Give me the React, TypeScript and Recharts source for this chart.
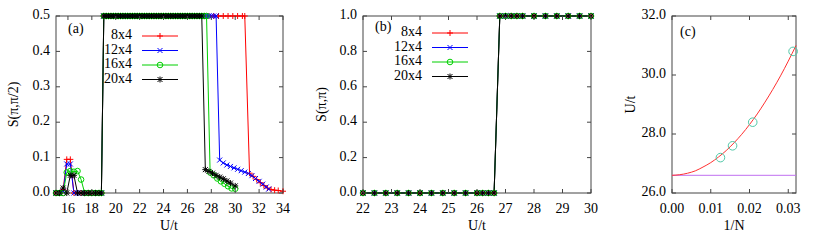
import React from 'react';
import { LineChart, ComposedChart, Line, Scatter, XAxis, YAxis, ReferenceLine } from 'recharts';

const W = 822;
const H = 240;
const FONT = "'Liberation Serif', 'Times New Roman', 'DejaVu Serif', serif";
const FS = 14;
const FRAME = '#444444';
const TICK_LEN = 4;
const YW = 40;
const XH = 30;

const RED = '#ff0000';
const BLUE = '#0000ff';
const GREEN = '#00d000';
const BLACK = '#000000';
const TEAL = '#50c8a8';
const FIT = '#ff3030';
const VIOLET = '#c070f0';

// plot boxes in page pixels
const boxA = { l: 56, t: 16, r: 283, b: 193 };
const boxB = { l: 363, t: 16, r: 591, b: 193 };
const boxC = { l: 672, t: 16, r: 796, b: 193 };

// ---------- panel (a): S(pi, pi/2) vs U/t ----------
const uLow = [15.0, 15.3, 15.6, 15.9, 16.2, 16.5, 16.8, 17.1, 17.4, 17.7, 18.0, 18.3, 18.6, 18.8];
const sLow8 = [0, 0, 0.01, 0.095, 0.095, 0, 0, 0, 0, 0, 0, 0, 0, 0];
const sLow12 = [0, 0, 0.005, 0.082, 0.082, 0, 0, 0, 0, 0, 0, 0, 0, 0];
const sLow16 = [0, 0, 0, 0.058, 0.062, 0.06, 0.062, 0.038, 0, 0, 0, 0, 0, 0];
const sLow20 = [0, 0, 0.014, 0, 0.05, 0.05, 0, 0, 0, 0, 0, 0, 0, 0];

const uPlateau = [
  19.0, 19.2, 19.4, 19.6, 19.8, 20.0, 20.2, 20.4, 20.6, 20.8, 21.0, 21.2, 21.4, 21.6,
  21.8, 22.0, 22.2, 22.4, 22.6, 22.8, 23.0, 23.2, 23.4, 23.6, 23.8, 24.0, 24.2, 24.4,
  24.6, 24.8, 25.0, 25.2, 25.4, 25.6, 25.8, 26.0, 26.2, 26.4, 26.6, 26.8, 27.0,
];
const sPlateau = [
  0.5, 0.5, 0.5, 0.5, 0.5, 0.5, 0.5, 0.5, 0.5, 0.5, 0.5, 0.5, 0.5, 0.5,
  0.5, 0.5, 0.5, 0.5, 0.5, 0.5, 0.5, 0.5, 0.5, 0.5, 0.5, 0.5, 0.5, 0.5,
  0.5, 0.5, 0.5, 0.5, 0.5, 0.5, 0.5, 0.5, 0.5, 0.5, 0.5, 0.5, 0.5,
];

const uTail8 = [27.4, 27.8, 28.2, 28.6, 29.0, 29.4, 29.8, 30.2, 30.6, 30.8, 31.2, 31.5, 31.8, 32.1, 32.4, 32.7, 33.0, 33.3, 33.6, 34.0];
const sTail8 = [0.5, 0.5, 0.5, 0.5, 0.5, 0.5, 0.5, 0.5, 0.5, 0.5, 0.056, 0.047, 0.038, 0.029, 0.021, 0.014, 0.01, 0.008, 0.007, 0.005];

const uTail12 = [27.2, 27.4, 27.6, 27.8, 28.0, 28.2, 28.4, 28.7, 29.0, 29.3, 29.6, 29.9, 30.2, 30.5, 30.8, 31.1, 31.4, 31.7, 32.0, 32.3, 32.6, 32.8];
const sTail12 = [0.5, 0.5, 0.5, 0.5, 0.5, 0.5, 0.5, 0.093, 0.085, 0.079, 0.075, 0.071, 0.067, 0.063, 0.059, 0.055, 0.049, 0.041, 0.033, 0.025, 0.017, 0.011];

const uTail16 = [27.2, 27.4, 27.6, 27.9, 28.2, 28.5, 28.8, 29.1, 29.4, 29.7, 30.0];
const sTail16 = [0.5, 0.5, 0.5, 0.058, 0.05, 0.041, 0.033, 0.026, 0.019, 0.013, 0.012];

const uTail20 = [27.2, 27.5, 27.8, 28.1, 28.4, 28.7, 29.0, 29.3, 29.6, 30.0];
const sTail20 = [0.5, 0.066, 0.061, 0.056, 0.05, 0.045, 0.04, 0.034, 0.028, 0.02];

const xTicksA = [16, 18, 20, 22, 24, 26, 28, 30, 32, 34];
const yTicksA = [0, 0.1, 0.2, 0.3, 0.4, 0.5];

// ---------- panel (b): S(pi, pi) vs U/t ----------
const uB = [22.0, 22.4, 22.8, 23.2, 23.6, 24.0, 24.4, 24.8, 25.2, 25.6, 26.0, 26.2, 26.4, 26.6, 26.8, 27.0, 27.2, 27.4, 27.6, 28.0, 28.4, 28.8, 29.2, 29.6, 30.0];
const sB = [0, 0, 0, 0, 0, 0, 0, 0, 0, 0, 0, 0, 0, 0, 1, 1, 1, 1, 1, 1, 1, 1, 1, 1, 1];
const xTicksB = [22, 23, 24, 25, 26, 27, 28, 29, 30];
const yTicksB = [0, 0.2, 0.4, 0.6, 0.8, 1.0];

// ---------- panel (c): critical U/t vs 1/N ----------
const invN = [0.0125, 0.015625, 0.020833, 0.03125];
const uCrit = [27.2, 27.6, 28.4, 30.8];
const fitX = [0, 0.002, 0.004, 0.006, 0.008, 0.01, 0.012, 0.014, 0.016, 0.018, 0.02, 0.022, 0.024, 0.026, 0.028, 0.03, 0.032];
const fitU = [26.6, 26.62, 26.67, 26.75, 26.88, 27.03, 27.22, 27.44, 27.7, 27.99, 28.32, 28.68, 29.08, 29.51, 29.97, 30.47, 31.0];
const uInfinite = 26.6;
const xTicksC = [0, 0.01, 0.02, 0.03];
const yTicksC = [26, 28, 30, 32];

const sizes = ['8x4', '12x4', '16x4', '20x4'];

const zip = (us: number[], ss: number[]) => us.map((u, i) => ({ u, s: ss[i] }));

const seriesA = [
  { name: sizes[0], color: RED, kind: 'plus', data: [...zip(uLow, sLow8), ...zip(uPlateau, sPlateau), ...zip(uTail8, sTail8)] },
  { name: sizes[1], color: BLUE, kind: 'cross', data: [...zip(uLow, sLow12), ...zip(uPlateau, sPlateau), ...zip(uTail12, sTail12)] },
  { name: sizes[2], color: GREEN, kind: 'circle', data: [...zip(uLow, sLow16), ...zip(uPlateau, sPlateau), ...zip(uTail16, sTail16)] },
  { name: sizes[3], color: BLACK, kind: 'star', data: [...zip(uLow, sLow20), ...zip(uPlateau, sPlateau), ...zip(uTail20, sTail20)] },
];

const seriesB = [
  { name: sizes[0], color: RED, kind: 'plus', data: zip(uB, sB) },
  { name: sizes[1], color: BLUE, kind: 'cross', data: zip(uB, sB) },
  { name: sizes[2], color: GREEN, kind: 'circle', data: zip(uB, sB) },
  { name: sizes[3], color: BLACK, kind: 'star', data: zip(uB, sB) },
];

const pointsC = invN.map((x, i) => ({ x, u: uCrit[i] }));
const fitC = fitX.map((x, i) => ({ x, u: fitU[i] }));

const textStyle: React.CSSProperties = { fontFamily: FONT, fontSize: FS };

function Mark({ kind, cx, cy, color }: { kind: string; cx?: number; cy?: number; color: string }) {
  if (cx == null || cy == null || Number.isNaN(cx) || Number.isNaN(cy)) return null;
  const r = 3;
  const d = 2.5;
  const plus = `M${cx - r},${cy}H${cx + r}M${cx},${cy - r}V${cy + r}`;
  const cross = `M${cx - d},${cy - d}L${cx + d},${cy + d}M${cx - d},${cy + d}L${cx + d},${cy - d}`;
  if (kind === 'plus') return <path d={plus} stroke={color} strokeWidth={1} fill="none" />;
  if (kind === 'cross') return <path d={cross} stroke={color} strokeWidth={1} fill="none" />;
  if (kind === 'circle') return <circle cx={cx} cy={cy} r={2.8} stroke={color} strokeWidth={1} fill="none" />;
  return <path d={plus + cross} stroke={color} strokeWidth={1} fill="none" />;
}

type Box = { l: number; t: number; r: number; b: number };

const makeXTick = (box: Box, fmt: (v: number) => string) => (p: any) => (
  <g>
    <line x1={p.x} x2={p.x} y1={box.b} y2={box.b - TICK_LEN} stroke={FRAME} />
    <line x1={p.x} x2={p.x} y1={box.t} y2={box.t + TICK_LEN} stroke={FRAME} />
    <text x={p.x} y={box.b + 17} textAnchor="middle" dominantBaseline="middle" style={textStyle} fill="#000">
      {fmt(p.payload.value)}
    </text>
  </g>
);

const makeYTick = (box: Box, fmt: (v: number) => string) => (p: any) => (
  <g>
    <line x1={box.l} x2={box.l + TICK_LEN} y1={p.y} y2={p.y} stroke={FRAME} />
    <line x1={box.r} x2={box.r - TICK_LEN} y1={p.y} y2={p.y} stroke={FRAME} />
    <text x={box.l - 6} y={p.y} textAnchor="end" dominantBaseline="middle" style={textStyle} fill="#000">
      {fmt(p.payload.value)}
    </text>
  </g>
);

const marginFor = (box: Box) => ({ top: box.t, left: box.l - YW, right: W - box.r, bottom: H - box.b - XH });

const layer: React.CSSProperties = { position: 'absolute', left: 0, top: 0 };

function SizePanel({ box, series, xDomain, xTicks, yDomain, yTicks }: any) {
  return (
    <div style={layer}>
      <LineChart width={W} height={H} margin={marginFor(box)}>
        <XAxis
          dataKey="u"
          type="number"
          domain={xDomain}
          ticks={xTicks}
          interval={0}
          height={XH}
          tickSize={0}
          tickMargin={0}
          tickLine={false}
          axisLine={false}
          tick={makeXTick(box, (v) => String(v))}
        />
        <YAxis
          type="number"
          domain={yDomain}
          ticks={yTicks}
          interval={0}
          width={YW}
          tickSize={0}
          tickMargin={0}
          tickLine={false}
          axisLine={false}
          tick={makeYTick(box, (v) => v.toFixed(1))}
        />
        {series.map((s: any) => (
          <Line
            key={s.name}
            data={s.data}
            dataKey="s"
            name={s.name}
            type="linear"
            stroke={s.color}
            strokeWidth={1}
            isAnimationActive={false}
            activeDot={false}
            dot={(p: any) => <Mark key={`${s.name}-${p.index}`} kind={s.kind} cx={p.cx} cy={p.cy} color={s.color} />}
          />
        ))}
      </LineChart>
    </div>
  );
}

function Legend({ textRight, lineX1, lineX2, rows, series }: any) {
  return (
    <g>
      {series.map((s: any, i: number) => (
        <g key={s.name}>
          <text x={textRight} y={rows[i]} textAnchor="end" dominantBaseline="middle" style={textStyle} fill="#000">
            {s.name}
          </text>
          <line x1={lineX1} x2={lineX2} y1={rows[i]} y2={rows[i]} stroke={s.color} strokeWidth={1} />
          <Mark kind={s.kind} cx={(lineX1 + lineX2) / 2} cy={rows[i]} color={s.color} />
        </g>
      ))}
    </g>
  );
}

const Frame = ({ box }: { box: Box }) => (
  <rect x={box.l} y={box.t} width={box.r - box.l} height={box.b - box.t} fill="none" stroke={FRAME} strokeWidth={1} />
);

export default function App() {
  return (
    <div style={{ position: 'absolute', left: 0, top: 0, width: W, height: H, background: '#fff', overflow: 'hidden', fontFamily: FONT }}>
      <svg width={W} height={H} style={layer}>
        <Frame box={boxA} />
        <Frame box={boxB} />
        <Frame box={boxC} />
      </svg>

      <SizePanel box={boxA} series={seriesA} xDomain={[15, 34]} xTicks={xTicksA} yDomain={[0, 0.5]} yTicks={yTicksA} />
      <SizePanel box={boxB} series={seriesB} xDomain={[22, 30]} xTicks={xTicksB} yDomain={[0, 1]} yTicks={yTicksB} />

      <div style={layer}>
        <ComposedChart width={W} height={H} margin={marginFor(boxC)}>
          <XAxis
            dataKey="x"
            type="number"
            domain={[0, 0.032]}
            ticks={xTicksC}
            interval={0}
            height={XH}
            tickSize={0}
            tickMargin={0}
            tickLine={false}
            axisLine={false}
            tick={makeXTick(boxC, (v) => v.toFixed(2))}
          />
          <YAxis
            dataKey="u"
            type="number"
            domain={[26, 32]}
            ticks={yTicksC}
            interval={0}
            width={YW}
            tickSize={0}
            tickMargin={0}
            tickLine={false}
            axisLine={false}
            tick={makeYTick(boxC, (v) => v.toFixed(1))}
          />
          <ReferenceLine y={uInfinite} stroke={VIOLET} strokeWidth={1} />
          <Line data={fitC} dataKey="u" type="monotone" stroke={FIT} strokeWidth={1} dot={false} activeDot={false} isAnimationActive={false} />
          <Scatter
            data={pointsC}
            dataKey="u"
            isAnimationActive={false}
            shape={(p: any) => <circle cx={p.cx} cy={p.cy} r={4.3} fill="none" stroke={TEAL} strokeWidth={1} />}
          />
        </ComposedChart>
      </div>

      <svg width={W} height={H} style={{ ...layer, pointerEvents: 'none' }}>
        <g style={textStyle} fill="#000">
          <text x={68} y={30} dominantBaseline="middle">(a)</text>
          <text x={375} y={28} dominantBaseline="middle">(b)</text>
          <text x={680} y={33} dominantBaseline="middle">(c)</text>

          <text x={169} y={227} textAnchor="middle" dominantBaseline="middle">U/t</text>
          <text x={477} y={227} textAnchor="middle" dominantBaseline="middle">U/t</text>
          <text x={734} y={227} textAnchor="middle" dominantBaseline="middle">1/N</text>

          <text transform="translate(15,104.5) rotate(-90)" textAnchor="middle" dominantBaseline="middle">S(π,π/2)</text>
          <text transform="translate(323,104.5) rotate(-90)" textAnchor="middle" dominantBaseline="middle">S(π,π)</text>
          <text transform="translate(632,104.5) rotate(-90)" textAnchor="middle" dominantBaseline="middle">U/t</text>
        </g>
        <Legend textRight={132} lineX1={142} lineX2={178} rows={[36, 50.5, 65, 79.5]} series={seriesA} />
        <Legend textRight={422} lineX1={432} lineX2={468} rows={[33, 47.5, 62, 76.5]} series={seriesB} />
      </svg>
    </div>
  );
}
